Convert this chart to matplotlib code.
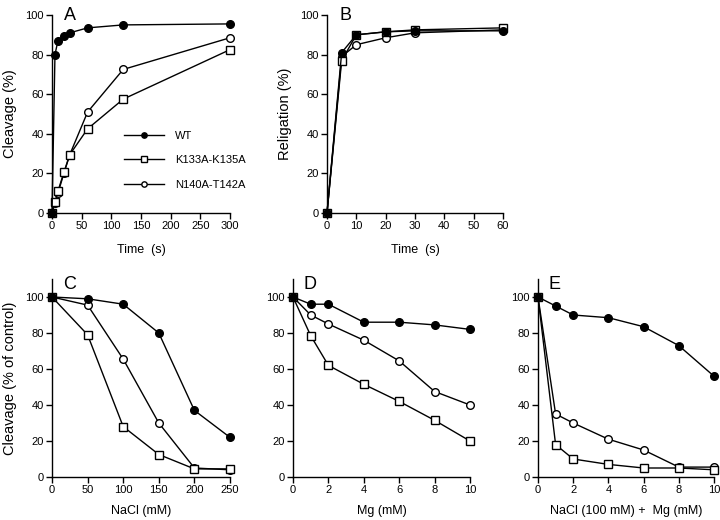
import matplotlib
matplotlib.use('Agg')
import matplotlib.pyplot as plt

plt.rcParams['font.family'] = ['Liberation Sans', 'DejaVu Sans']

labels = ['WT', 'K133A-K135A', 'N140A-T142A']

# A: cleavage time course
tA = [0, 5, 10, 20, 30, 60, 120, 300]
A_wt = [0, 80, 87, 89.5, 91, 93.5, 95, 95.5]
A_k = [0, 5.5, 11, 20.5, 29.5, 42.5, 57.5, 82.5]
A_n = [0, 5, 10, 20, 29.5, 51, 72.5, 88.5]

# B: religation time course
tB = [0, 5, 10, 20, 30, 60]
B_wt = [0, 81, 90, 91.5, 92, 92]
B_k = [0, 77, 90, 91.5, 92.5, 93.5]
B_n = [0, 79, 85, 88.5, 91, 92.5]

# C: NaCl
nacl = [0, 50, 100, 150, 200, 250]
C_wt = [100, 99, 96, 80, 37, 22]
C_k = [100, 79, 28, 12.5, 4.5, 4.5]
C_n = [100, 95.5, 65.5, 30, 5, 4]

# D: Mg
mg = [0, 1, 2, 4, 6, 8, 10]
D_wt = [100, 96, 96, 86, 86, 84.5, 82]
D_k = [100, 78.5, 62, 51.5, 42, 31.5, 20]
D_n = [100, 90, 85, 76, 64.5, 47.5, 40]

# E: NaCl 100 mM + Mg
E_wt = [100, 95, 90, 88.5, 83.5, 73, 56]
E_k = [100, 18, 10, 7, 5, 5, 4]
E_n = [100, 35, 30, 21, 15, 5.5, 5.5]

W, H = 720, 520
fig = plt.figure(figsize=(W / 100, H / 100), dpi=100)


def px_axes(x0, x1, ytop, ybot):
    return fig.add_axes([x0 / W, 1 - ybot / H, (x1 - x0) / W, (ybot - ytop) / H])


def style(ax):
    for s in ['top', 'right']:
        ax.spines[s].set_visible(False)
    for s in ['left', 'bottom']:
        ax.spines[s].set_linewidth(1.0)
    ax.tick_params(direction='out', length=4, width=1, labelsize=8, pad=2)


def draw(ax, x, wt, k, n):
    ax.plot(x, n, '-o', color='black', mfc='white', mec='black', ms=5.5, lw=1,
            clip_on=False, label=labels[2], zorder=3)
    ax.plot(x, k, '-s', color='black', mfc='white', mec='black', ms=5.5, lw=1,
            clip_on=False, label=labels[1], zorder=4)
    ax.plot(x, wt, '-o', color='black', mfc='black', mec='black', ms=5.5, lw=1,
            clip_on=False, label=labels[0], zorder=5)


axA = px_axes(52, 230, 15, 213)
draw(axA, tA, A_wt, A_k, A_n)
axA.set_xlim(0, 300)
axA.set_ylim(0, 100)
axA.set_xticks(range(0, 301, 50))
axA.set_yticks(range(0, 101, 20))
axA.set_xlabel('Time  (s)', fontsize=9, labelpad=9)
axA.set_ylabel('Cleavage (%)', fontsize=10.5, labelpad=6)
style(axA)
h, l = axA.get_legend_handles_labels()
axA.legend(h[::-1], l[::-1], frameon=False, loc='upper left',
           bbox_to_anchor=(0.35, 0.465), handlelength=3.6, handletextpad=1.0,
           labelspacing=1.3, fontsize=8, markerscale=0.7)
axA.text(0.07, 1.0, 'A', transform=axA.transAxes, fontsize=13, va='center')

axB = px_axes(327, 503, 15, 213)
draw(axB, tB, B_wt, B_k, B_n)
axB.set_xlim(0, 60)
axB.set_ylim(0, 100)
axB.set_xticks(range(0, 61, 10))
axB.set_yticks(range(0, 101, 20))
axB.set_xlabel('Time  (s)', fontsize=9, labelpad=9)
axB.set_ylabel('Religation (%)', fontsize=10.5, labelpad=6)
style(axB)
axB.text(0.07, 1.0, 'B', transform=axB.transAxes, fontsize=13, va='center')

axC = px_axes(52, 230, 279, 477)
draw(axC, nacl, C_wt, C_k, C_n)
axC.set_xlim(0, 250)
axC.set_ylim(0, 110)
axC.set_xticks(range(0, 251, 50))
axC.set_yticks(range(0, 101, 20))
axC.set_xlabel('NaCl (mM)', fontsize=9, labelpad=7)
axC.set_ylabel('Cleavage (% of control)', fontsize=10.5, labelpad=6)
style(axC)
axC.text(0.06, 0.97, 'C', transform=axC.transAxes, fontsize=13, va='center')

axD = px_axes(293, 470, 279, 477)
draw(axD, mg, D_wt, D_k, D_n)
axD.set_xlim(0, 10)
axD.set_ylim(0, 110)
axD.set_xticks(range(0, 11, 2))
axD.set_yticks(range(0, 101, 20))
axD.set_xlabel('Mg (mM)', fontsize=9, labelpad=7)
style(axD)
axD.text(0.06, 0.97, 'D', transform=axD.transAxes, fontsize=13, va='center')

axE = px_axes(538, 714, 279, 477)
draw(axE, mg, E_wt, E_k, E_n)
axE.set_xlim(0, 10)
axE.set_ylim(0, 110)
axE.set_xticks(range(0, 11, 2))
axE.set_yticks(range(0, 101, 20))
axE.set_xlabel('NaCl (100 mM) +  Mg (mM)', fontsize=9, labelpad=7)
style(axE)
axE.text(0.06, 0.97, 'E', transform=axE.transAxes, fontsize=13, va='center')

fig.savefig('out.png', dpi=100)
